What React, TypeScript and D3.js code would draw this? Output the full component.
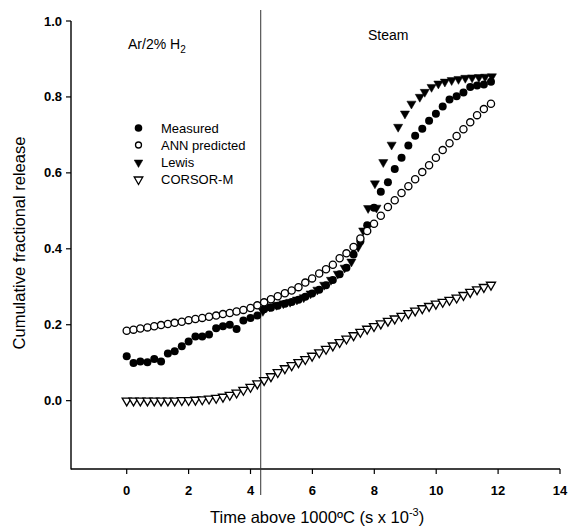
import React from "react";
import * as d3 from "d3";

const times = [0, 0.22, 0.44, 0.67, 0.89, 1.11, 1.33, 1.55, 1.78, 2.0, 2.22, 2.44, 2.66, 2.89, 3.11, 3.33, 3.55, 3.77, 4.0, 4.22, 4.44, 4.66, 4.88, 5.11, 5.33, 5.55, 5.77, 5.99, 6.22, 6.44, 6.66, 6.88, 7.1, 7.33, 7.55, 7.77, 7.99, 8.21, 8.44, 8.66, 8.88, 9.1, 9.32, 9.55, 9.77, 9.99, 10.21, 10.43, 10.66, 10.88, 11.1, 11.32, 11.54, 11.77];

const measured = [0.117, 0.099, 0.103, 0.101, 0.11, 0.103, 0.124, 0.13, 0.143, 0.156, 0.169, 0.169, 0.174, 0.191, 0.196, 0.2, 0.189, 0.211, 0.218, 0.224, 0.241, 0.245, 0.25, 0.255, 0.26, 0.266, 0.274, 0.282, 0.292, 0.304, 0.318, 0.333, 0.35, 0.385, 0.42, 0.462, 0.508, 0.55, 0.575, 0.61, 0.64, 0.672, 0.698, 0.716, 0.737, 0.756, 0.775, 0.793, 0.802, 0.812, 0.826, 0.83, 0.833, 0.84];

const annPredicted = [0.184, 0.187, 0.19, 0.193, 0.196, 0.199, 0.202, 0.205, 0.208, 0.212, 0.215, 0.218, 0.221, 0.224, 0.228, 0.231, 0.235, 0.239, 0.244, 0.251, 0.259, 0.267, 0.275, 0.283, 0.29, 0.299, 0.311, 0.322, 0.335, 0.346, 0.358, 0.375, 0.388, 0.405, 0.427, 0.447, 0.466, 0.487, 0.51, 0.528, 0.547, 0.565, 0.583, 0.602, 0.62, 0.64, 0.66, 0.678, 0.697, 0.715, 0.733, 0.752, 0.768, 0.782];

const corsorM = [0, 0, 0, 0, 0, 0, 0, 0, 0.001, 0.001, 0.002, 0.003, 0.005, 0.007, 0.01, 0.015, 0.021, 0.028, 0.036, 0.045, 0.054, 0.064, 0.075, 0.085, 0.093, 0.101, 0.109, 0.118, 0.127, 0.136, 0.145, 0.154, 0.163, 0.172, 0.181, 0.189, 0.196, 0.203, 0.21, 0.216, 0.223, 0.23, 0.237, 0.243, 0.249, 0.255, 0.26, 0.265, 0.271, 0.278, 0.286, 0.293, 0.299, 0.305];

const lewisTimes = [4.4, 4.62, 4.84, 5.06, 5.28, 5.5, 5.72, 5.94, 6.16, 6.38, 6.6, 6.82, 7.04, 7.26, 7.48, 7.64, 7.8, 8.07, 8.02, 8.29, 8.56, 8.77, 8.99, 9.2, 9.47, 9.63, 9.85, 10.07, 10.28, 10.5, 10.72, 10.94, 11.16, 11.38, 11.58, 11.8];
const lewis = [0.236, 0.248, 0.252, 0.256, 0.26, 0.266, 0.272, 0.282, 0.292, 0.305, 0.318, 0.334, 0.35, 0.366, 0.405, 0.448, 0.507, 0.508, 0.572, 0.628, 0.674, 0.721, 0.756, 0.782, 0.8, 0.813, 0.826, 0.835, 0.84, 0.844, 0.847, 0.85, 0.851, 0.852, 0.853, 0.854];

const xTicks = [0, 2, 4, 6, 8, 10, 12, 14];
const yTicks = [0.0, 0.2, 0.4, 0.6, 0.8, 1.0];
const legendLabels = ["Measured", "ANN predicted", "Lewis", "CORSOR-M"];
const phaseChange = 4.33;

const W = 568;
const H = 528;
const FONT = "Arial, 'Liberation Sans', Helvetica, sans-serif";

export default function App() {
  const x = d3.scaleLinear().domain([-1.8, 14]).range([71, 560]);
  const y = d3.scaleLinear().domain([-0.18, 1.0]).range([469, 21]);
  const tri = d3.symbol(d3.symbolTriangle, 36)() as string;
  const triLegend = d3.symbol(d3.symbolTriangle, 32)() as string;

  const downTri = (cx: number, cy: number, filled: boolean, key: string, path = tri) => (
    <path
      key={key}
      d={path}
      transform={`translate(${cx},${cy}) rotate(180)`}
      fill={filled ? "#000" : "#fff"}
      stroke="#000"
      strokeWidth={filled ? 0.5 : 1.3}
    />
  );

  const legendY = [128, 145, 162.5, 179.5];

  return (
    <svg
      width={W}
      height={H}
      style={{ position: "absolute", left: 0, top: 0, background: "#fff" }}
      fontFamily={FONT}
    >
      <rect width={W} height={H} fill="#fff" />
      {/* axes */}
      <line x1={x(-1.8)} x2={x(-1.8)} y1={y(-0.18) + 0.5} y2={y(1.0)} stroke="#000" strokeWidth={1.4} />
      <line x1={x(-1.8)} x2={x(14)} y1={y(-0.18)} y2={y(-0.18)} stroke="#000" strokeWidth={1.4} />
      {yTicks.map((t) => (
        <g key={"y" + t}>
          <line x1={x(-1.8) - 5} x2={x(-1.8)} y1={y(t)} y2={y(t)} stroke="#000" strokeWidth={1.2} />
          <text x={62} y={y(t)} dy="0.35em" textAnchor="end" fontSize={13} fontWeight="bold">
            {t.toFixed(1)}
          </text>
        </g>
      ))}
      {xTicks.map((t) => (
        <g key={"x" + t}>
          <line x1={x(t)} x2={x(t)} y1={y(-0.18)} y2={y(-0.18) + 5} stroke="#000" strokeWidth={1.2} />
          <text x={x(t)} y={495} textAnchor="middle" fontSize={13} fontWeight="bold">
            {t}
          </text>
        </g>
      ))}
      {/* phase change line */}
      <line x1={x(phaseChange)} x2={x(phaseChange)} y1={10} y2={495} stroke="#333" strokeWidth={1} />

      {/* titles */}
      <text transform="translate(25,243) rotate(-90)" textAnchor="middle" fontSize={16.5}>
        Cumulative fractional release
      </text>
      <text x={210} y={523} fontSize={16.5}>
        Time above 1000ºC (s x 10<tspan dy={-7} fontSize={11}>-3</tspan>
        <tspan dy={7}>)</tspan>
      </text>
      <text x={128} y={49} fontSize={14}>
        Ar/2% H<tspan dy={4} fontSize={10}>2</tspan>
      </text>
      <text x={368} y={40} fontSize={14}>
        Steam
      </text>

      {/* data */}
      {times.map((t, i) => downTri(x(t), y(corsorM[i]), false, "c" + i))}
      {times.map((t, i) => (
        <circle key={"m" + i} cx={x(t)} cy={y(measured[i])} r={4} fill="#000" />
      ))}
      {lewisTimes.map((t, i) => downTri(x(t), y(lewis[i]), true, "l" + i))}
      {times.map((t, i) => (
        <circle key={"a" + i} cx={x(t)} cy={y(annPredicted[i])} r={3.6} fill="#fff" stroke="#000" strokeWidth={1.3} />
      ))}

      {/* legend */}
      <circle cx={138.5} cy={legendY[0]} r={3.8} fill="#000" />
      <circle cx={138.5} cy={legendY[1]} r={3.0} fill="#fff" stroke="#000" strokeWidth={1.3} />
      {downTri(138.5, legendY[2], true, "lg2", triLegend)}
      {downTri(138.5, legendY[3], false, "lg3", triLegend)}
      {legendLabels.map((l, i) => (
        <text key={l} x={161} y={legendY[i]} dy="0.36em" fontSize={13}>
          {l}
        </text>
      ))}
    </svg>
  );
}
